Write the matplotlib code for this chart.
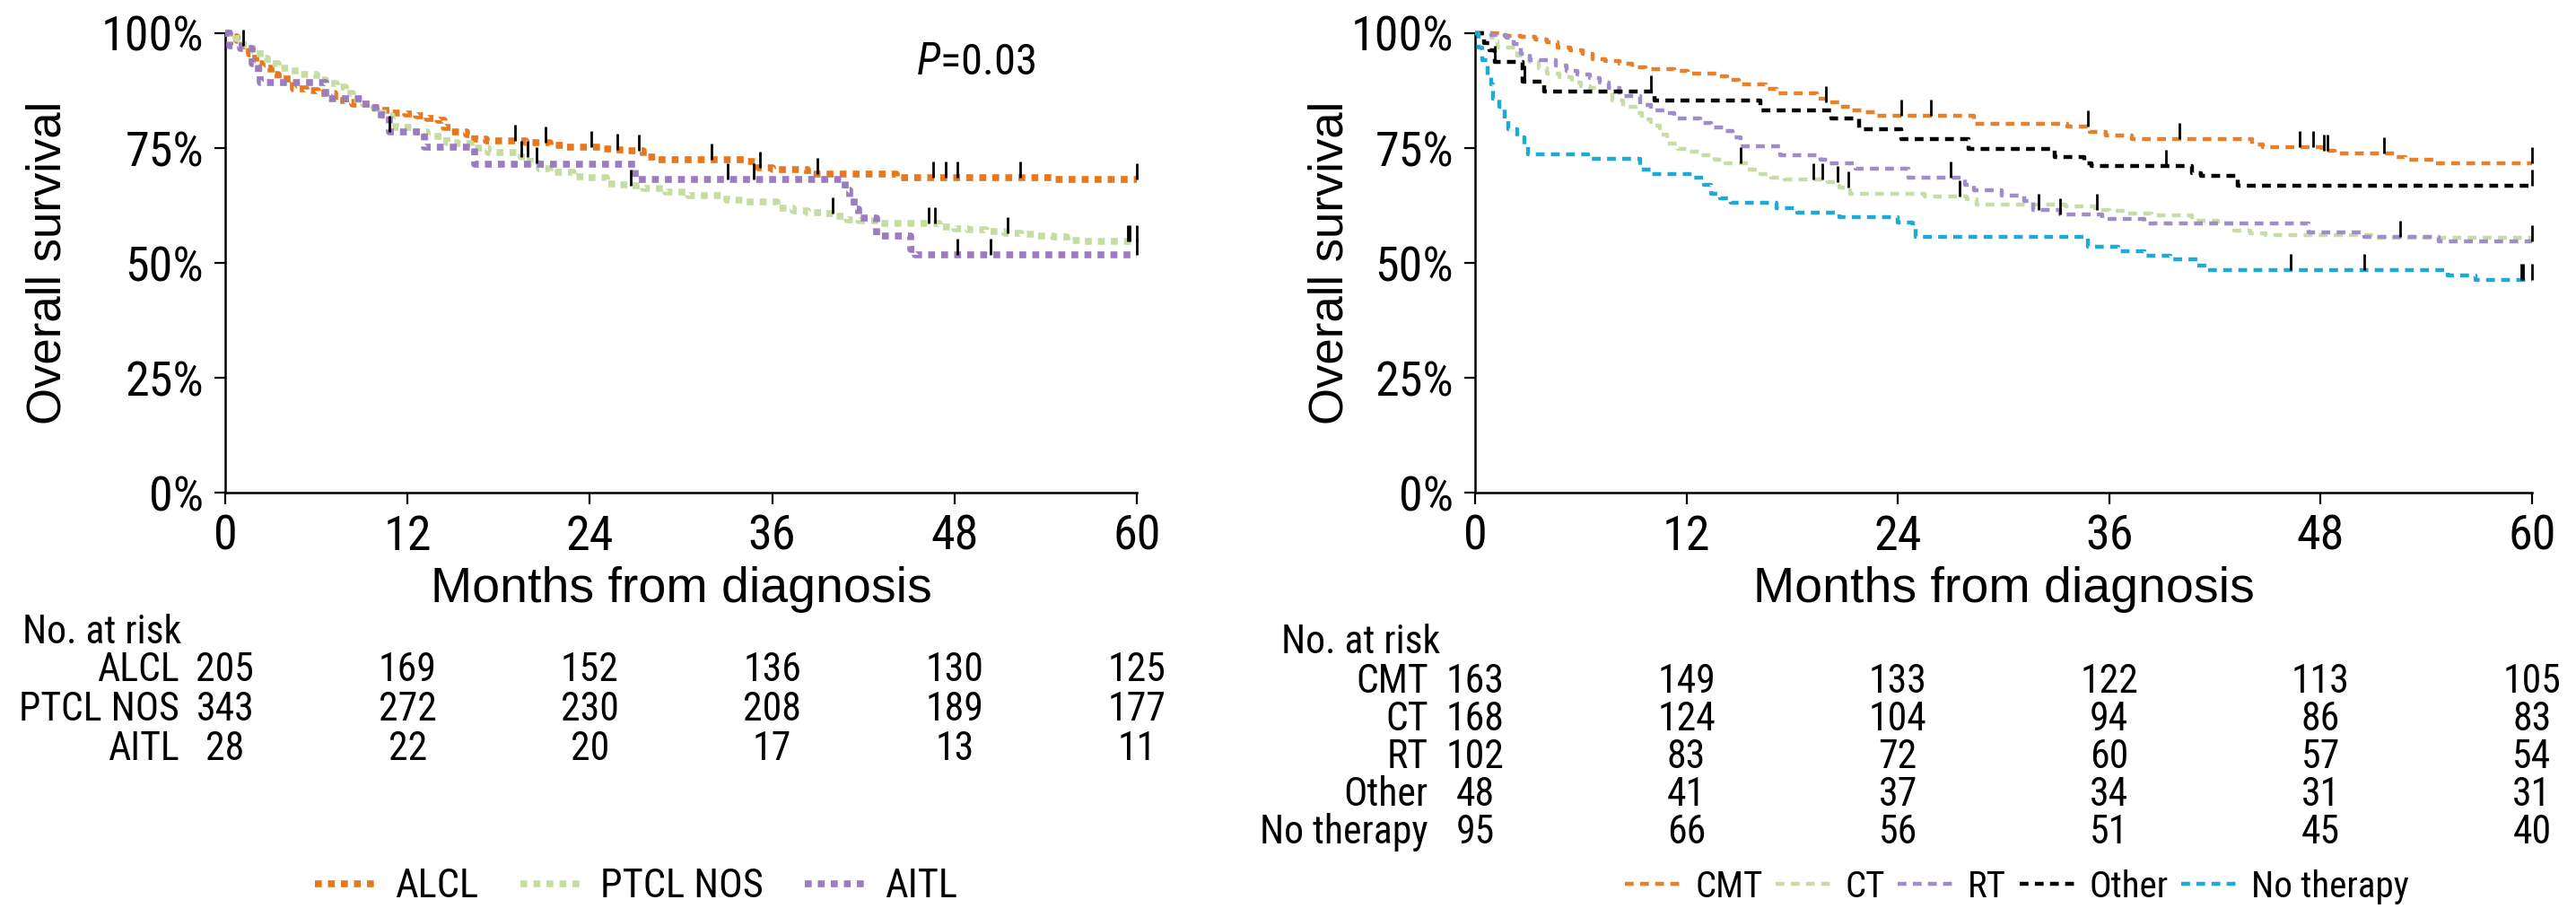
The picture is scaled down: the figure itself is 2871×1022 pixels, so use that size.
import matplotlib
matplotlib.use("Agg")
import numpy as np
import matplotlib.pyplot as plt
import matplotlib.font_manager as fm
import matplotlib.transforms as mtransforms
from matplotlib.path import Path

# ---------------- data ----------------
risk_months = [0, 12, 24, 36, 48, 60]

# left panel: histology
alcl_t = [0, 0.5, 0.8, 1.2, 1.6, 2.0, 2.4, 3.0, 3.5, 4.5, 5.3, 6.1, 7.2, 7.9, 8.4, 9.8, 10.3, 11.0, 11.9,
          12.6, 13.3, 14.0, 14.4, 14.8, 15.9, 16.4, 17.2, 19.8, 21.4, 22.4, 24.8, 25.6, 26.4, 27.5, 28.5,
          34.3, 35.1, 36.0, 38.3, 44.2, 54.5, 60]
alcl_s = [100, 99.2, 98.5, 97.2, 95.6, 93.3, 92.4, 91.1, 90.1, 87.9, 87.5, 86.9, 85.3, 84.9, 84.6, 83.7, 83.3,
          82.7, 82.4, 82.0, 81.5, 81.1, 79.5, 78.5, 78.0, 77.0, 76.6, 76.1, 75.6, 75.1, 74.8, 74.6, 74.5, 73.0,
          72.4, 72.0, 70.7, 70.4, 69.4, 68.6, 68.2, 68.2]
alcl_c = [1.2, 19.1, 21.1, 24.1, 25.8, 27.2, 32.0, 35.2, 39.0, 46.6, 47.4, 48.2, 52.3, 60]

ptcl_t = [0, 0.7, 1.2, 1.8, 2.3, 2.8, 3.5, 4.2, 4.9, 6.0, 6.6, 7.3, 7.9, 8.4, 9.1, 9.8, 10.4, 11.0, 11.2, 12.6,
          13.3, 14.6, 15.3, 16.2, 17.3, 19.5, 20.1, 20.7, 21.4, 22.9, 23.7, 25.1, 25.9, 26.7, 27.5, 29.0, 30.5,
          33.0, 34.2, 36.3, 37.4, 38.3, 39.2, 40.1, 40.9, 41.7, 43.0, 47.0, 48.0, 48.9, 50.1, 51.3, 52.4, 53.3,
          54.5, 55.4, 56.5, 60]
ptcl_s = [100, 98.8, 97.5, 96.3, 94.6, 93.3, 92.4, 91.7, 91.1, 89.9, 89.1, 88.2, 86.9, 85.6, 84.6, 83.5, 82.0,
          81.1, 79.5, 78.5, 77.5, 76.2, 75.9, 75.0, 74.0, 73.0, 71.7, 70.5, 69.8, 68.8, 68.5, 67.2, 66.9, 66.7,
          66.2, 65.5, 64.6, 63.6, 63.3, 62.0, 61.4, 61.0, 60.7, 60.1, 59.4, 59.1, 58.5, 57.8, 57.5, 57.2, 56.8,
          56.5, 56.2, 55.9, 55.6, 54.9, 54.6, 54.6]
ptcl_c = [19.5, 19.9, 20.5, 26.7, 40.0, 46.3, 46.7, 51.5, 59.4, 59.5, 60]

aitl_t = [0, 0.3, 1.0, 1.8, 2.2, 2.3, 6.6, 9.3, 9.9, 10.8, 13.1, 16.4, 27.0, 40.8, 41.1, 41.4, 41.7, 42.9,
          45.1, 45.4, 60]
aitl_s = [100, 97.2, 96.6, 93.3, 91.4, 89.3, 85.8, 83.7, 82.2, 78.5, 75.1, 71.4, 68.2, 65.9, 64.0, 61.7, 59.8,
          55.9, 53.0, 51.8, 51.8]
aitl_c = [10.8, 33.1, 34.8, 48.2, 50.4, 60]

left_names = ["ALCL", "PTCL NOS", "AITL"]
left_risk = [[205, 169, 152, 136, 130, 125],
             [343, 272, 230, 208, 189, 177],
             [28, 22, 20, 17, 13, 11]]

# right panel: treatment
cmt_t = [0, 1.7, 2.6, 3.4, 4.1, 4.7, 5.4, 6.1, 6.7, 7.4, 8.2, 8.9, 9.7, 11.3, 12.1, 13.7, 14.3, 15.0, 16.5,
         17.1, 19.4, 19.9, 20.7, 21.4, 22.1, 22.8, 28.3, 33.6, 34.9, 35.8, 37.3, 44.1, 44.7, 48.1, 48.8, 52.2,
         52.8, 54.5, 60]
cmt_s = [100, 99.5, 99.3, 98.6, 98.1, 96.9, 96.3, 95.6, 94.4, 93.9, 93.4, 92.5, 92.1, 91.8, 91.3, 90.6, 89.9,
         88.8, 87.9, 87.0, 85.8, 84.9, 84.0, 83.3, 82.8, 82.1, 80.3, 79.7, 78.6, 77.7, 77.0, 75.8, 75.1, 74.5,
         73.8, 73.0, 72.4, 71.7, 71.7]
cmt_c = [19.9, 24.2, 25.9, 34.8, 40.0, 46.8, 47.6, 48.2, 48.4, 51.6, 60]

ct_t = [0, 0.9, 1.1, 1.3, 2.4, 3.1, 3.6, 4.1, 4.8, 5.5, 6.0, 6.5, 7.1, 7.8, 8.4, 9.1, 9.5, 10.0, 10.5, 10.9,
        11.5, 12.1, 12.8, 13.6, 14.2, 15.5, 16.2, 16.8, 17.6, 20.0, 20.7, 21.3, 25.5, 27.9, 28.5, 33.5, 35.2,
        36.0, 36.9, 38.4, 40.7, 42.2, 43.1, 44.0, 44.9, 51.0, 60]
ct_s = [100, 99.0, 98.3, 96.9, 95.1, 93.7, 92.3, 91.3, 90.4, 89.2, 88.5, 88.1, 87.4, 85.3, 84.0, 82.6, 81.2,
        79.8, 78.0, 75.9, 74.9, 74.2, 73.5, 72.4, 71.7, 70.3, 69.3, 68.6, 68.2, 67.5, 66.5, 65.1, 64.4, 63.9,
        62.7, 62.3, 61.6, 61.3, 60.7, 60.4, 59.2, 58.5, 57.1, 56.5, 56.0, 55.5, 55.5]
ct_c = [15.1, 19.2, 19.7, 20.6, 21.2, 27.5, 35.3]

rt_t = [0, 0.9, 1.8, 2.2, 2.6, 3.1, 4.6, 5.2, 5.8, 6.5, 7.1, 7.6, 8.2, 9.4, 10.0, 10.8, 11.3, 12.8, 13.4,
        14.1, 14.6, 15.1, 17.3, 19.6, 20.1, 21.6, 24.6, 27.8, 28.3, 29.9, 31.2, 31.7, 33.2, 35.6, 38.0, 47.3,
        50.5, 54.7, 60]
rt_s = [100, 99.6, 99.1, 97.6, 95.5, 94.1, 93.0, 91.8, 91.1, 90.2, 89.2, 88.1, 86.4, 84.3, 83.3, 82.6, 81.4,
        80.5, 79.4, 78.7, 77.3, 75.4, 73.5, 72.4, 71.6, 70.5, 68.6, 66.9, 65.8, 64.6, 63.4, 61.6, 60.6, 59.5,
        58.6, 56.7, 55.7, 54.6, 54.6]
rt_c = [27.0, 32.0, 33.2, 52.5, 60]

oth_t = [0, 0.5, 0.8, 1.1, 2.7, 3.9, 10.2, 16.2, 20.2, 21.8, 24.2, 28.0, 32.9, 34.6, 35.0, 40.7, 41.2, 43.3, 60]
oth_s = [100, 97.9, 96.2, 93.7, 89.5, 87.4, 85.3, 83.3, 81.4, 79.1, 77.0, 74.9, 73.1, 71.7, 71.0, 69.6, 68.9,
         66.8, 66.8]
oth_c = [1.1, 2.8, 10.0, 39.2, 60]

not_t = [0, 0.2, 0.4, 0.7, 0.9, 1.0, 1.4, 1.7, 1.9, 2.4, 2.8, 3.0, 6.4, 9.4, 10.0, 12.4, 13.0, 13.4, 13.9,
         14.5, 17.1, 18.3, 20.7, 24.0, 24.8, 25.0, 34.8, 36.5, 38.0, 39.5, 41.0, 41.5, 55.2, 56.8, 60]
not_s = [100, 96.9, 94.1, 90.9, 88.8, 85.7, 84.0, 81.5, 79.1, 77.3, 75.8, 73.7, 72.6, 70.3, 69.3, 68.6, 66.9,
         65.1, 64.1, 63.0, 62.0, 60.9, 59.9, 58.8, 58.5, 55.7, 53.6, 52.5, 51.5, 50.7, 49.4, 48.4, 47.3, 46.3,
         46.3]
not_c = [46.3, 50.5, 59.4, 59.5, 60]

right_names = ["CMT", "CT", "RT", "Other", "No therapy"]
right_risk = [[163, 149, 133, 122, 113, 105],
              [168, 124, 104, 94, 86, 83],
              [102, 83, 72, 60, 57, 54],
              [48, 41, 37, 34, 31, 31],
              [95, 66, 56, 51, 45, 40]]

# ---------------- fonts ----------------
# the chart uses a condensed sans for numbers; pick one if it is installed
ttf = fm.fontManager.ttflist
names = {f.name for f in ttf}
NARROW, STRETCH, SHRINK = "Liberation Sans", "normal", 0.84
for cand in ["Liberation Sans Narrow", "Arial Narrow", "Roboto Condensed", "Open Sans Condensed"]:
    if cand in names:
        NARROW, STRETCH, SHRINK = cand, "normal", 1.0
        break
else:
    for fam in ["Roboto", "Open Sans", "Noto Sans", "DejaVu Sans"]:
        if any(f.name == fam and f.stretch in ("condensed", "semi-condensed", 300, 400) for f in ttf):
            NARROW, STRETCH, SHRINK = fam, "condensed", 0.95
            break
REG = "Liberation Sans"
plt.rcParams["font.family"] = [NARROW, "DejaVu Sans"]
plt.rcParams["font.stretch"] = STRETCH
plt.rcParams["mathtext.fontset"] = "custom"
plt.rcParams["mathtext.it"] = NARROW + ":italic"
plt.rcParams["mathtext.rm"] = NARROW


def fs(x):
    return x * SHRINK


fig = plt.figure(figsize=(28.71, 10.22), dpi=100)
axL = fig.add_axes([0.0874, 0.4628, 0.3539, 0.501])
axR = fig.add_axes([0.5726, 0.4628, 0.4103, 0.501])

tick_up = Path([(0, 0), (0, 1)])


def km(ax, t, s, c, color, label, lw, dashes):
    ax.step(t, s, where="post", color=color, lw=lw, dashes=dashes,
            dash_capstyle="butt", clip_on=False, label=label, zorder=3)
    t = np.asarray(t)
    s = np.asarray(s)
    idx = np.searchsorted(t, c, side="right") - 1
    ax.plot(c, s[idx], ls="none", marker=tick_up, ms=26, mew=2.0, color="black",
            clip_on=False, zorder=4)


def style(ax, ylab_x):
    ax.set_xlim(0, 60)
    ax.set_ylim(0, 100)
    ax.set_xticks(risk_months)
    ax.set_yticks([0, 25, 50, 75, 100])
    ax.set_yticklabels(["0%", "25%", "50%", "75%", "100%"])
    for sp in ["top", "right"]:
        ax.spines[sp].set_visible(False)
    for sp in ["left", "bottom"]:
        ax.spines[sp].set_linewidth(1.8)
    ax.tick_params(direction="out", length=9, width=1.6, labelsize=fs(39), pad=8)
    ax.set_xlabel("Months from diagnosis", fontsize=40, family=REG, fontstretch="normal")
    ax.set_ylabel("Overall survival", fontsize=38, family=REG, fontstretch="normal")
    ax.xaxis.set_label_coords(0.5, -0.16)
    ax.yaxis.set_label_coords(ylab_x, 0.5)


# left panel
lw_l, d_l = 5.5, (1.0, 0.9)
km(axL, alcl_t, alcl_s, alcl_c, "#E8781E", "ALCL", lw_l, d_l)
km(axL, ptcl_t, ptcl_s, ptcl_c, "#C6DDA2", "PTCL NOS", lw_l, d_l)
km(axL, aitl_t, aitl_s, aitl_c, "#9B7CC0", "AITL", lw_l, d_l)
style(axL, -0.17)
axL.text(49.4, 93.5, r"$P$=0.03", fontsize=fs(35), ha="center", va="center")

# right panel
lw_r, d_r = 3.2, (2.2, 1.6)
km(axR, cmt_t, cmt_s, cmt_c, "#E8802A", "CMT", lw_r, d_r)
km(axR, ct_t, ct_s, ct_c, "#C8DCA8", "CT", lw_r, d_r)
km(axR, rt_t, rt_s, rt_c, "#A08CC8", "RT", lw_r, d_r)
km(axR, oth_t, oth_s, oth_c, "black", "Other", lw_r, d_r)
km(axR, not_t, not_s, not_c, "#1EAAD8", "No therapy", lw_r, d_r)
style(axR, -0.116)


# risk tables
def risk_table(ax, names, counts, head_x, lab_x, ys):
    tr = mtransforms.blended_transform_factory(ax.transData, fig.transFigure)
    fig.text(head_x, ys[0], "No. at risk", fontsize=fs(31.5), ha="left", va="center")
    for name, row, y in zip(names, counts, ys[1:]):
        fig.text(lab_x, y, name, fontsize=fs(31.5), ha="right", va="center")
        for m, n in zip(risk_months, row):
            ax.text(m, y, str(n), fontsize=fs(31.5), ha="center", va="center", transform=tr)


risk_table(axL, left_names, left_risk, 0.0087, 0.0697, [0.310, 0.269, 0.226, 0.183])
risk_table(axR, right_names, right_risk, 0.4974, 0.5545, [0.299, 0.256, 0.215, 0.174, 0.133, 0.092])

# legends
fig.legend(*axL.get_legend_handles_labels(), loc="center", bbox_to_anchor=(0.247, 0.033), ncol=3,
           frameon=False, fontsize=fs(32), handlelength=1.6, handletextpad=0.4, columnspacing=1.05)
fig.legend(*axR.get_legend_handles_labels(), loc="center", bbox_to_anchor=(0.783, 0.033), ncol=5,
           frameon=False, fontsize=fs(29.5), handlelength=1.6, handletextpad=0.3, columnspacing=0.35)

fig.savefig("out.png", dpi=100)
